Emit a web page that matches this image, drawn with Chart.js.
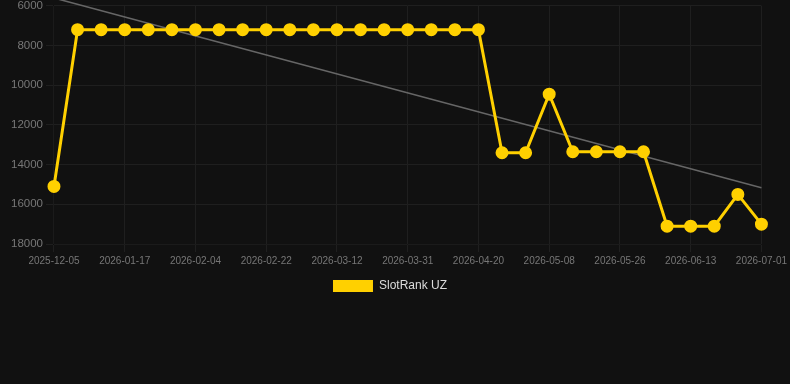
<!DOCTYPE html>
<html>
<head>
<meta charset="utf-8">
<script src="https://cdn.jsdelivr.net/npm/chart.js@4"></script>
<style>
  html, body { margin: 0; padding: 0; background: #111111; overflow: hidden; }
  #wrap { width: 790px; height: 306px; position: relative; margin-top: -4px; }
</style>
</head>
<body>
<div id="wrap"><canvas id="rankChart"></canvas></div>
<script>
const dates = [
  '2025-12-05', '2026-01-05', '2026-01-11', '2026-01-17', '2026-01-23', '2026-01-29',
  '2026-02-04', '2026-02-10', '2026-02-16', '2026-02-22', '2026-02-28', '2026-03-06',
  '2026-03-12', '2026-03-18', '2026-03-25', '2026-03-31', '2026-04-06', '2026-04-13',
  '2026-04-20', '2026-04-26', '2026-05-02', '2026-05-08', '2026-05-14', '2026-05-20',
  '2026-05-26', '2026-06-01', '2026-06-07', '2026-06-13', '2026-06-19', '2026-06-25',
  '2026-07-01'
];
const rankUZ = [
  15100, 7200, 7200, 7200, 7200, 7200, 7200, 7200, 7200, 7200, 7200, 7200,
  7200, 7200, 7200, 7200, 7200, 7200, 7200, 13400, 13400, 10450, 13350, 13350,
  13350, 13350, 17100, 17100, 17100, 15500, 17000
];
// trend line: only ends given, gaps spanned
const trend = dates.map(() => null);
trend[0] = 5600;
trend[dates.length - 1] = 15170;

const yTicks = [6000, 8000, 10000, 12000, 14000, 16000, 18000];

new Chart(document.querySelector('#rankChart'), {
  type: 'line',
  data: {
    labels: dates,
    datasets: [
      {
        label: 'SlotRank UZ',
        data: rankUZ,
        borderColor: '#FFD000',
        backgroundColor: '#FFD000',
        borderWidth: 3,
        pointRadius: 5,
        pointHoverRadius: 5,
        tension: 0,
      },
      {
        label: 'trend',
        data: trend,
        spanGaps: true,
        borderColor: '#666666',
        borderWidth: 1.5,
        pointRadius: 0,
        clip: false,
      },
    ],
  },
  options: {
    responsive: true,
    maintainAspectRatio: false,
    animation: false,
    layout: { padding: { left: 8, right: 18 } },
    scales: {
      x: {
        grid: {
          color: (c) => (c.index % 3 === 0 ? '#1f1f1f' : 'transparent'),
        },
        ticks: {
          autoSkip: false,
          maxRotation: 0,
          color: '#777777',
          font: { size: 10 },
          callback: function (v, i) { return i % 3 === 0 ? this.getLabelForValue(v) : ''; },
        },
      },
      y: {
        reverse: true,
        min: 6000,
        max: 18000,
        afterBuildTicks: (s) => { s.ticks = yTicks.map((v) => ({ value: v })); },
        grid: { color: '#1f1f1f' },
        ticks: { color: '#777777', font: { size: 11.5 }, callback: (v) => String(v) },
      },
    },
    plugins: {
      legend: {
        position: 'bottom',
        labels: {
          color: '#dddddd',
          font: { size: 12 },
          boxWidth: 40,
          boxHeight: 12,
          filter: (item) => item.text !== 'trend',
          generateLabels: (chart) =>
            Chart.defaults.plugins.legend.labels.generateLabels(chart).map((l) => ({ ...l, lineWidth: 0 })),
        },
      },
      tooltip: { enabled: false },
    },
  },
});
</script>
</body>
</html>
